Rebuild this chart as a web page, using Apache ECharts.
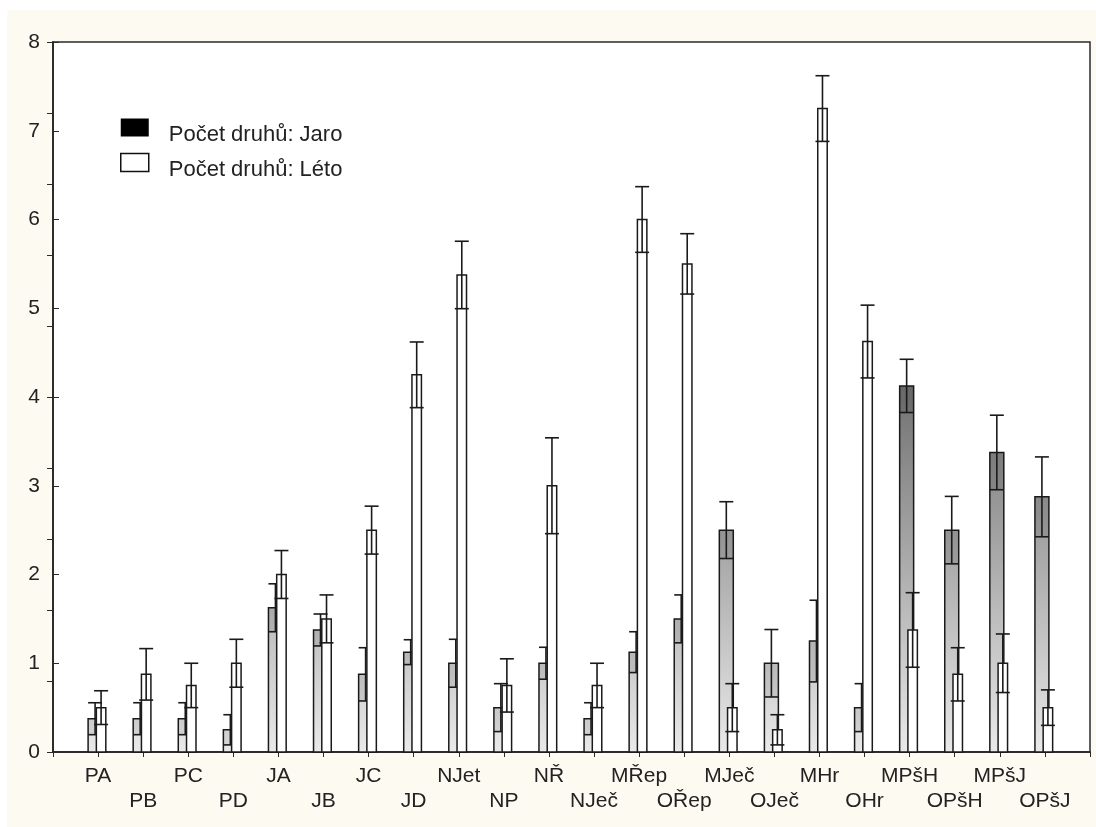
<!DOCTYPE html>
<html>
<head>
<meta charset="utf-8">
<script src="https://cdn.jsdelivr.net/npm/echarts@6/dist/echarts.min.js"></script>
<style>
html,body{margin:0;padding:0;background:#fff;}
#chart{width:1096px;height:827px;}
</style>
</head>
<body>
<div id="chart"></div>
<script>
const categories = ['PA','PB','PC','PD','JA','JB','JC','JD','NJet','NP','NŘ','NJeč','MŘep','OŘep','MJeč','OJeč','MHr','OHr','MPšH','OPšH','MPšJ','OPšJ'];
const jaro   = [0.375,0.375,0.375,0.25,1.625,1.375,0.875,1.125,1.0,0.5,1.0,0.375,1.125,1.5,2.5,1.0,1.25,0.5,4.125,2.5,3.375,2.875];
const jaroSE = [0.18,0.18,0.18,0.17,0.27,0.18,0.3,0.14,0.27,0.27,0.18,0.18,0.23,0.27,0.32,0.38,0.46,0.27,0.3,0.38,0.42,0.45];
const leto   = [0.5,0.875,0.75,1.0,2.0,1.5,2.5,4.25,5.375,0.75,3.0,0.75,6.0,5.5,0.5,0.25,7.25,4.625,1.375,0.875,1.0,0.5];
const letoSE = [0.19,0.29,0.25,0.27,0.27,0.27,0.27,0.37,0.38,0.3,0.54,0.25,0.37,0.34,0.27,0.17,0.37,0.41,0.42,0.3,0.33,0.2];
const yTicks = [0,1,2,3,4,5,6,7,8];
const legendNames = ['Počet druhů: Jaro','Počet druhů: Léto'];

const FONT = 'Arial, "Liberation Sans", sans-serif';
const INK = '#1a1a1a';

function makeRender(offsetFrac, widthFrac, isJaro) {
  return function (params, api) {
    const x = api.value(0), m = api.value(1), e = api.value(2);
    const unit = api.size([1, 0])[0];
    const w = unit * widthFrac;
    const capW = unit * 0.31;
    const base = api.coord([x, 0]);
    const cx = base[0] + unit * offsetFrac;
    const y0 = base[1];
    const yTop = api.coord([x, m])[1];
    const yLo = api.coord([x, m - e])[1];
    const yHi = api.coord([x, m + e])[1];
    const yMax = api.coord([x, yTicks[yTicks.length - 1]])[1];
    let fill = '#ffffff';
    if (isJaro) {
      fill = {
        type: 'linear', x: 0, y: y0, x2: 0, y2: yMax, global: true,
        colorStops: [{offset: 0, color: '#e9e9e9'}, {offset: 1, color: '#000000'}]
      };
    }
    const lineStyle = {stroke: INK, lineWidth: 1.6};
    const children = [
      {type: 'rect', shape: {x: cx - w / 2, y: yTop, width: w, height: y0 - yTop},
       style: {fill: fill, stroke: INK, lineWidth: 1.5}}
    ];
    if (isJaro) {
      children.push({type: 'rect', shape: {x: cx - w / 2, y: yTop, width: w, height: yLo - yTop},
        style: {fill: 'rgba(0,0,0,0.08)'}});
    }
    children.push(
      {type: 'line', shape: {x1: cx, y1: yLo, x2: cx, y2: yHi}, style: lineStyle},
      {type: 'line', shape: {x1: cx - capW / 2, y1: yHi, x2: cx + capW / 2, y2: yHi}, style: lineStyle},
      {type: 'line', shape: {x1: cx - capW / 2, y1: yLo, x2: cx + capW / 2, y2: yLo}, style: lineStyle}
    );
    return {type: 'group', children: children};
  };
}

const jaroData = categories.map((c, i) => [i + 1, jaro[i], jaroSE[i]]);
const letoData = categories.map((c, i) => [i + 1, leto[i], letoSE[i]]);

const chart = echarts.init(document.getElementById('chart'), null, {renderer: 'canvas'});
const option = {
  animation: false,
  backgroundColor: '#ffffff',
  textStyle: {fontFamily: FONT},
  graphic: [{
    type: 'rect', z: -10, silent: true,
    shape: {x: 7, y: 10, width: 1100, height: 830},
    style: {fill: '#fdfaf1'}
  }],
  grid: {left: 53, top: 42, right: 6, bottom: 75, show: true, backgroundColor: '#ffffff',
         borderColor: '#2a2a2a', borderWidth: 1.5},
  legend: {
    left: 120, top: 109, padding: 0, orient: 'vertical', itemWidth: 28, itemHeight: 18, itemGap: -2,
    selectedMode: false,
    formatter: function (name) { return '\n' + name; },
    textStyle: {fontSize: 22, lineHeight: 15, color: '#222', fontFamily: FONT, padding: [0, 0, 0, 15]},
    data: [
      {name: legendNames[0], icon: 'rect', itemStyle: {color: '#000', borderWidth: 0}},
      {name: legendNames[1], icon: 'rect', itemStyle: {color: '#fff', borderColor: '#111', borderWidth: 1.5}}
    ]
  },
  xAxis: [{
    type: 'value', min: 0, max: categories.length + 1, interval: 1, position: 'bottom',
    axisLine: {show: true, lineStyle: {color: '#2a2a2a', width: 1.5}},
    axisTick: {show: false}, splitLine: {show: false},
    axisLabel: {
      fontSize: 21, color: '#222', margin: 12, lineHeight: 25, fontFamily: FONT,
      formatter: function (v) {
        const i = Math.round(v) - 1;
        if (i < 0 || i >= categories.length) return '';
        return (i % 2 === 1 ? '\n' : '') + categories[i];
      }
    }
  }, {
    type: 'value', min: 0, max: categories.length + 1, interval: 1, position: 'top',
    axisLine: {show: true, lineStyle: {color: '#2a2a2a', width: 1.5}},
    axisTick: {show: true, inside: true, length: 5, lineStyle: {color: '#2a2a2a'}},
    axisLabel: {show: false}, splitLine: {show: false}
  }],
  yAxis: [{
    type: 'value', min: 0, max: 8, interval: 1, position: 'left',
    axisLine: {show: true, lineStyle: {color: '#2a2a2a', width: 1.5}},
    axisTick: {show: true, inside: true, length: 6, lineStyle: {color: '#2a2a2a'}},
    splitLine: {show: false},
    axisLabel: {fontSize: 21, color: '#222', margin: 13, fontFamily: FONT}
  }, {
    type: 'value', min: 0, max: 10, interval: 1, position: 'right',
    axisLine: {show: true, lineStyle: {color: '#2a2a2a', width: 1.5}},
    axisTick: {show: true, inside: true, length: 6, lineStyle: {color: '#2a2a2a'}},
    axisLabel: {show: false}, splitLine: {show: false}
  }],
  series: [{
    name: legendNames[0], type: 'custom', xAxisIndex: 0, yAxisIndex: 0,
    itemStyle: {color: '#000'},
    encode: {x: 0, y: 1},
    renderItem: makeRender(-0.0665, 0.31, true),
    data: jaroData, z: 2
  }, {
    name: legendNames[1], type: 'custom', xAxisIndex: 0, yAxisIndex: 0,
    itemStyle: {color: '#fff', borderColor: '#111'},
    encode: {x: 0, y: 1},
    renderItem: makeRender(0.0665, 0.21, false),
    data: letoData, z: 3
  }]
};
chart.setOption(option);
</script>
</body>
</html>
